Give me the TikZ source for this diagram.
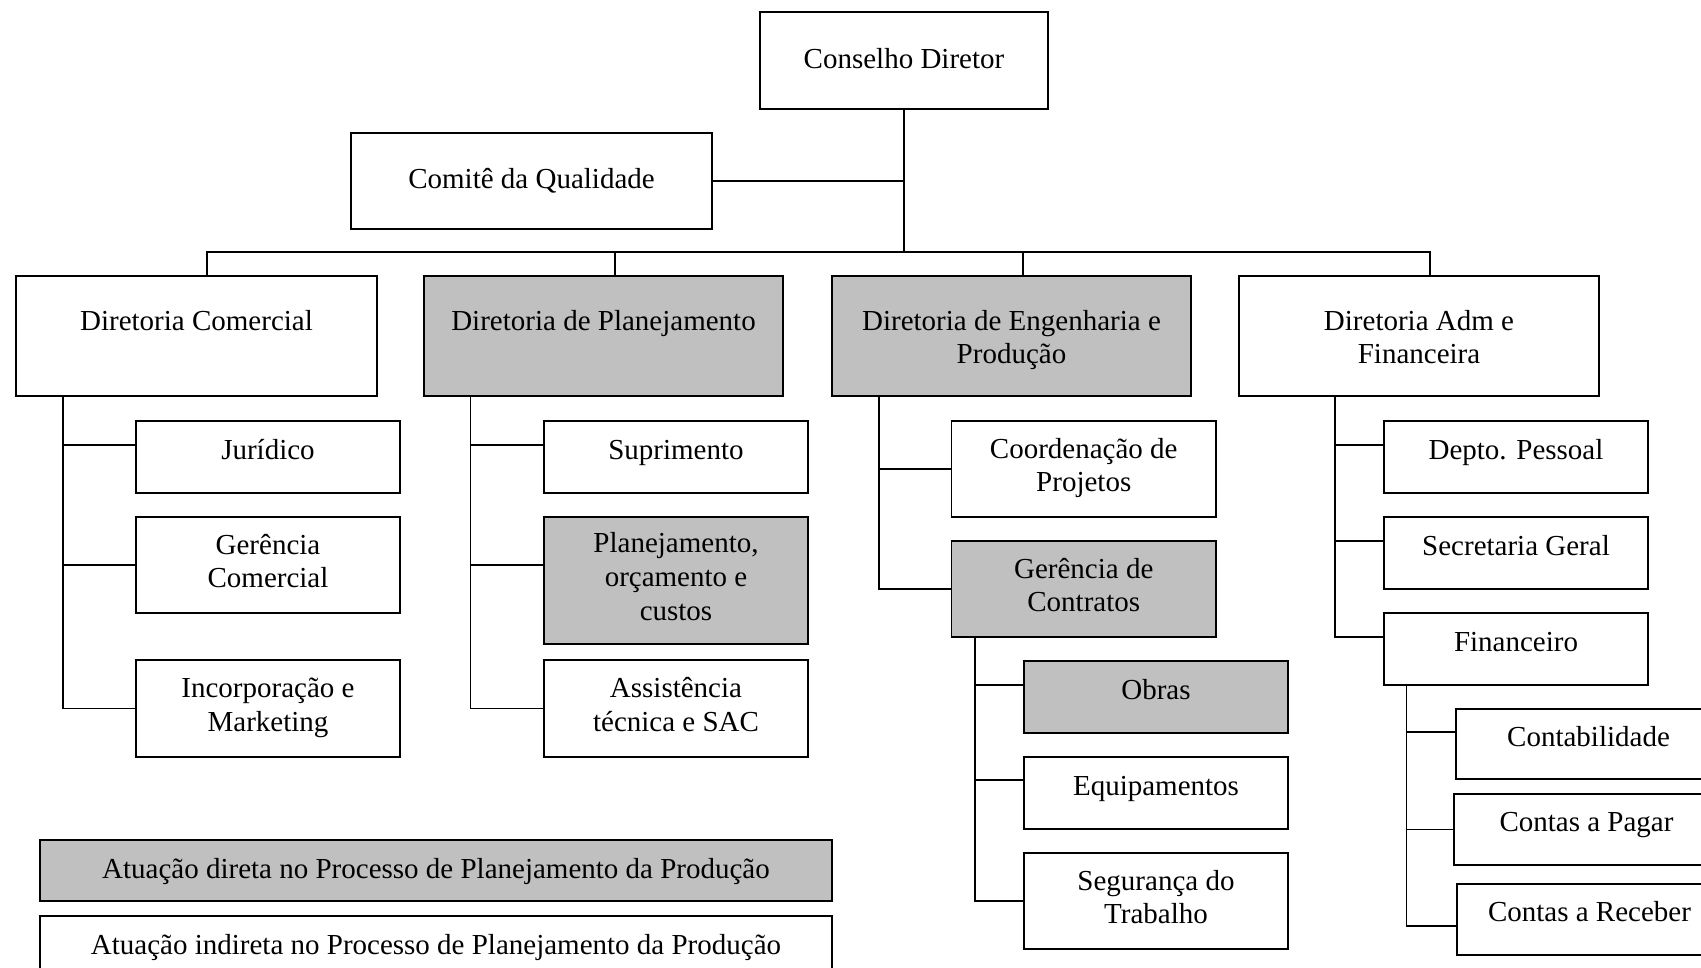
\documentclass[tikz,border=0pt]{standalone}
\usepackage{fontspec}
\setmainfont{Liberation Serif}
\usetikzlibrary{calc}
\definecolor{shade}{RGB}{192,192,192}
% struts that fix the vertical placement of stacked lines
\newcommand{\kidtop}{\rule{0pt}{27pt}}
\newcommand{\kidbot}{\rule[-15pt]{0pt}{15pt}}
\newcommand{\dirtop}{\rule{0pt}{30pt}}
\newcommand{\dirbot}{\rule[-8pt]{0pt}{8pt}}
\begin{document}
\begin{tikzpicture}[x=1pt,y=-1pt,
  unit/.style={draw=black, line width=1.8pt, inner sep=0pt, align=center,
    font=\fontsize{29pt}{33.6pt}\selectfont},
  key/.style={unit, fill=shade},
  oneline/.style={text height=20pt, text depth=16pt},
  wideline/.style={text height=20pt, text depth=4pt},
  link/.style={line width=1.7pt}]
\useasboundingbox (0,0) rectangle (1701,968);
\fill[white] (0,0) rectangle (1701,968);

% top level
\node[unit, wideline, minimum width=288pt, minimum height=97pt] (cd) at (904,60.5) {Conselho Diretor};
\node[unit, wideline, minimum width=361pt, minimum height=96pt] (cq) at (531.5,181) {Comitê da Qualidade};

% directorates
\node[unit, minimum width=361pt, minimum height=120pt] (dc) at (196.5,336) {\dirtop Diretoria Comercial\\\dirbot};
\node[key,  minimum width=359pt, minimum height=120pt] (dp) at (603.5,336) {\dirtop Diretoria de Planejamento\\\dirbot};
\node[key,  minimum width=359pt, minimum height=120pt] (de) at (1011.5,336) {\dirtop Diretoria de Engenharia e\\Produção\dirbot};
\node[unit, minimum width=360pt, minimum height=120pt] (da) at (1419,336) {\dirtop Diretoria Adm e\\Financeira\dirbot};

% Diretoria Comercial
\node[unit, oneline, minimum width=264pt, minimum height=72pt] (jur) at (268,457) {Jurídico};
\node[unit, minimum width=264pt, minimum height=96pt] (gco) at (268,565) {\kidtop Gerência\\Comercial\kidbot};
\node[unit, minimum width=264pt, minimum height=97pt] (inc) at (268,708.5) {\kidtop Incorporação e\\Marketing\kidbot};

% Diretoria de Planejamento
\node[unit, oneline, minimum width=264pt, minimum height=72pt] (sup) at (676,457) {Suprimento};
\node[key,  minimum width=264pt, minimum height=127pt] (poc) at (676,580.5) {\kidtop Planejamento,\\orçamento e\\custos\kidbot};
\node[unit, minimum width=264pt, minimum height=97pt] (asa) at (676,708.5) {\kidtop Assistência\\técnica e SAC\kidbot};

% Diretoria de Engenharia e Produção
\node[unit, minimum width=264.5pt, minimum height=96pt] (cpr) at (1083.75,469) {\kidtop Coordenação de\\Projetos\kidbot};
\node[key,  minimum width=264.5pt, minimum height=96pt] (gct) at (1083.75,589) {\kidtop Gerência de\\Contratos\kidbot};
\node[key,  oneline, minimum width=264pt, minimum height=72pt] (obr) at (1156,697) {Obras};
\node[unit, oneline, minimum width=264pt, minimum height=72pt] (equ) at (1156,793) {Equipamentos};
\node[unit, minimum width=264pt, minimum height=96pt] (seg) at (1156,901) {\kidtop Segurança do\\Trabalho\kidbot};

% Diretoria Adm e Financeira
\node[unit, oneline, minimum width=264pt, minimum height=72pt] (dpe) at (1516,457) {Depto. Pessoal};
\node[unit, oneline, minimum width=264pt, minimum height=72pt] (sge) at (1516,553) {Secretaria Geral};
\node[unit, oneline, minimum width=264pt, minimum height=72pt] (fin) at (1516,649) {Financeiro};
\node[unit, oneline, minimum width=265pt, minimum height=70pt] (ctb) at (1588.5,744) {Contabilidade};
\node[unit, oneline, minimum width=265pt, minimum height=71pt] (cpg) at (1586.5,829.5) {Contas a Pagar};
\node[unit, oneline, minimum width=265pt, minimum height=71pt] (crc) at (1589.5,919.5) {Contas a Receber};

% legend
\node[key,  wideline, minimum width=792pt, minimum height=61pt] (ld) at (436,870.5) {Atuação direta no Processo de Planejamento da Produção};
\node[unit, wideline, minimum width=792pt, minimum height=61pt] (li) at (436,946.5) {Atuação indireta no Processo de Planejamento da Produção};

% top connectors
\coordinate (hub) at (904,252);
\draw[link] (cd.south) -- (hub);
\draw[link] (cq.east) -- (cq.east -| cd.south);
\draw[link] (hub) -| ($(dc.north west)+(192,0)$);
\draw[link] (hub) -| ($(dp.north west)+(192,0)$);
\draw[link] (hub) -| ($(de.north west)+(192,0)$);
\draw[link] (hub) -| ($(da.north west)+(192,0)$);

% Comercial branch
\coordinate (tc) at ($(dc.south west)+(48,0)$);
\draw[link] (tc) |- ([yshift=12pt]jur.west);
\draw[link] (tc) |- (gco.west);
\draw[link] (tc) |- (inc.west);

% Planejamento branch
\coordinate (tp) at ($(dp.south west)+(47.5,0)$);
\draw[link] (tp) |- ([yshift=12pt]sup.west);
\draw[link] (tp) |- ([yshift=15.5pt]poc.west);
\draw[link] (tp) |- (asa.west);

% Engenharia branch
\coordinate (te) at ($(de.south west)+(48,0)$);
\draw[link] (te) |- (cpr.west);
\draw[link] (te) |- (gct.west);
\coordinate (tg) at ($(gct.south west)+(24.5,0)$);
\draw[link] (tg) |- ([yshift=12pt]obr.west);
\draw[link] (tg) |- ([yshift=13pt]equ.west);
\draw[link] (tg) |- (seg.west);

% Adm branch
\coordinate (ta) at ($(da.south west)+(97,0)$);
\draw[link] (ta) |- ([yshift=12pt]dpe.west);
\draw[link] (ta) |- ([yshift=12pt]sge.west);
\draw[link] (ta) |- ([yshift=12pt]fin.west);
\coordinate (tf) at ($(fin.south west)+(23.5,0)$);
\draw[link] (tf) |- ([yshift=12pt]ctb.west);
\draw[link] (tf) |- (cpg.west);
\draw[link] (tf) |- ([yshift=-6.5pt]crc.west);
\end{tikzpicture}
\end{document}
